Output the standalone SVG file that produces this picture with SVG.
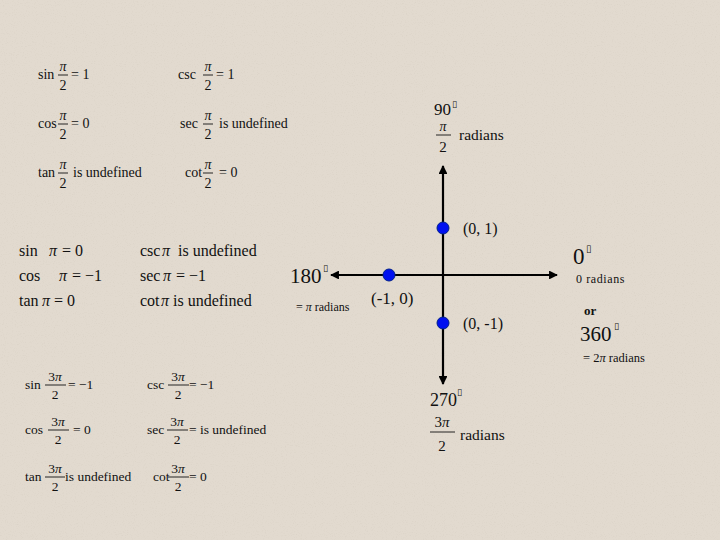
<svg xmlns="http://www.w3.org/2000/svg" width="720" height="540" viewBox="0 0 720 540">
<defs>
<style>
text{font-family:"Liberation Serif","Times New Roman",serif;fill:#111}
.t{font-size:14px}
.m{font-size:16px}
.b{font-size:13.5px}
.fl{stroke:#111;stroke-width:0.9}
.ax{stroke:#000;stroke-width:2.2;fill:none}
.dot{fill:#0010f0;stroke:#00208a;stroke-width:1}
.tofu{font-family:"DejaVu Sans",sans-serif}
</style>
<marker id="ah" viewBox="0 0 10 10" refX="9" refY="5" markerWidth="4" markerHeight="4" orient="auto-start-reverse">
<path d="M0,0 L10,5 L0,10 z" fill="#000"/>
</marker>
<filter id="noise" x="0" y="0" width="100%" height="100%">
<feTurbulence type="fractalNoise" baseFrequency="0.9" numOctaves="2" seed="3"/>
<feColorMatrix type="matrix" values="0 0 0 0 0.55  0 0 0 0 0.5  0 0 0 0 0.42  0 0 0 -1.6 0.75"/>
</filter>
</defs>
<rect width="720" height="540" fill="#e2dacf"/>
<rect width="720" height="540" filter="url(#noise)" opacity="0.35"/>

<g id="eq-pi-over-2" class="t">
<text x="38" y="79">sin</text><text x="63" y="71" text-anchor="middle" font-style="italic">π</text><line class="fl" x1="58" y1="75" x2="68" y2="75"/><text x="63" y="90" text-anchor="middle">2</text><text x="71" y="79">= 1</text>
<text x="178" y="79">csc</text><text x="208" y="71" text-anchor="middle" font-style="italic">π</text><line class="fl" x1="203" y1="75" x2="213" y2="75"/><text x="208" y="90" text-anchor="middle">2</text><text x="216" y="79">= 1</text>
<text x="38" y="128">cos</text><text x="63" y="120" text-anchor="middle" font-style="italic">π</text><line class="fl" x1="58" y1="124" x2="68" y2="124"/><text x="63" y="139" text-anchor="middle">2</text><text x="71" y="128">= 0</text>
<text x="180" y="128">sec</text><text x="208" y="120" text-anchor="middle" font-style="italic">π</text><line class="fl" x1="203" y1="124" x2="213" y2="124"/><text x="208" y="139" text-anchor="middle">2</text><text x="219" y="128">is undefined</text>
<text x="38" y="177">tan</text><text x="63" y="169" text-anchor="middle" font-style="italic">π</text><line class="fl" x1="58" y1="173" x2="68" y2="173"/><text x="63" y="188" text-anchor="middle">2</text><text x="73" y="177">is undefined</text>
<text x="185" y="177">cot</text><text x="208" y="169" text-anchor="middle" font-style="italic">π</text><line class="fl" x1="203" y1="173" x2="213" y2="173"/><text x="208" y="188" text-anchor="middle">2</text><text x="219" y="177">= 0</text>
</g>

<g id="eq-pi" class="m">
<text x="19" y="256">sin</text><text x="49" y="256" font-style="italic">π</text><text x="62" y="256">= 0</text>
<text x="140" y="256">csc</text><text x="162" y="256" font-style="italic">π</text><text x="178" y="256">is undefined</text>
<text x="19" y="281">cos</text><text x="59" y="281" font-style="italic">π</text><text x="72" y="281">= −1</text>
<text x="140" y="281">sec</text><text x="163" y="281" font-style="italic">π</text><text x="176" y="281">= −1</text>
<text x="19" y="306">tan</text><text x="42" y="306" font-style="italic">π</text><text x="54" y="306">= 0</text>
<text x="140" y="306">cot</text><text x="161" y="306" font-style="italic">π</text><text x="173" y="306">is undefined</text>
</g>

<g id="eq-3pi-over-2" class="b">
<text x="25" y="389">sin</text><text x="55" y="381" text-anchor="middle">3<tspan font-style="italic">π</tspan></text><line class="fl" x1="45" y1="385" x2="66" y2="385"/><text x="55" y="399" text-anchor="middle">2</text><text x="68" y="389">= −1</text>
<text x="147" y="389">csc</text><text x="178" y="381" text-anchor="middle">3<tspan font-style="italic">π</tspan></text><line class="fl" x1="168" y1="385" x2="189" y2="385"/><text x="178" y="399" text-anchor="middle">2</text><text x="189" y="389">= −1</text>
<text x="25" y="434">cos</text><text x="58" y="426" text-anchor="middle">3<tspan font-style="italic">π</tspan></text><line class="fl" x1="48" y1="430" x2="69" y2="430"/><text x="58" y="444" text-anchor="middle">2</text><text x="73" y="434">= 0</text>
<text x="147" y="434">sec</text><text x="177" y="426" text-anchor="middle">3<tspan font-style="italic">π</tspan></text><line class="fl" x1="167" y1="430" x2="188" y2="430"/><text x="177" y="444" text-anchor="middle">2</text><text x="189" y="434">= is undefined</text>
<text x="25" y="481">tan</text><text x="55" y="473" text-anchor="middle">3<tspan font-style="italic">π</tspan></text><line class="fl" x1="45" y1="477" x2="65" y2="477"/><text x="55" y="491" text-anchor="middle">2</text><text x="65" y="481">is undefined</text>
<text x="153" y="481">cot</text><text x="178" y="473" text-anchor="middle">3<tspan font-style="italic">π</tspan></text><line class="fl" x1="168" y1="477" x2="189" y2="477"/><text x="178" y="491" text-anchor="middle">2</text><text x="189" y="481">= 0</text>
</g>

<g id="connectors">
<line class="ax" x1="443" y1="275" x2="443" y2="166" marker-end="url(#ah)"/>
<line class="ax" x1="443" y1="275" x2="443" y2="384" marker-end="url(#ah)"/>
<line class="ax" x1="443" y1="275" x2="331" y2="275" marker-end="url(#ah)"/>
<line class="ax" x1="443" y1="275" x2="557" y2="275" marker-end="url(#ah)"/>
</g>

<g id="label-90">
<text x="434" y="115" font-size="17">90</text><text x="452" y="107" font-size="9" class="tofu">▯</text>
<text x="443" y="131" font-size="14" text-anchor="middle" font-style="italic">π</text>
<line class="fl" x1="436" y1="135" x2="451" y2="135"/>
<text x="443" y="152" font-size="15" text-anchor="middle">2</text>
<text x="459" y="140" font-size="15.5">radians</text>
</g>

<g id="label-0">
<text x="573" y="264" font-size="23">0</text><text x="586" y="252" font-size="10" class="tofu">▯</text>
<text x="576" y="283" font-size="12" letter-spacing="0.6">0 radians</text>
<text x="584" y="315" font-size="13" font-weight="bold">or</text>
<text x="580" y="341" font-size="21">360</text><text x="614" y="329" font-size="9" class="tofu">▯</text>
<text x="583" y="362" font-size="12.5">= 2<tspan font-style="italic">π</tspan> radians</text>
</g>

<g id="label-180">
<text x="290" y="283" font-size="21">180</text><text x="323" y="271" font-size="9" class="tofu">▯</text>
<text x="296" y="311" font-size="12">= <tspan font-style="italic">π</tspan> radians</text>
</g>

<g id="label-270">
<text x="430" y="406" font-size="18">270</text><text x="457" y="395" font-size="9" class="tofu">▯</text>
<text x="442" y="427" font-size="15" text-anchor="middle">3<tspan font-style="italic">π</tspan></text>
<line class="fl" x1="430" y1="432" x2="455" y2="432"/>
<text x="442" y="451" font-size="15" text-anchor="middle">2</text>
<text x="460" y="440" font-size="15.5">radians</text>
</g>

<g id="point-0-1">
<circle class="dot" cx="443" cy="228" r="6"/>
<text x="463" y="234" font-size="16">(0, 1)</text>
</g>
<g id="point-m1-0">
<circle class="dot" cx="389" cy="275" r="6"/>
<text x="371" y="304" font-size="17">(-1, 0)</text>
</g>
<g id="point-0-m1">
<circle class="dot" cx="443" cy="323" r="6"/>
<text x="463" y="329" font-size="16">(0, -1)</text>
</g>
</svg>
